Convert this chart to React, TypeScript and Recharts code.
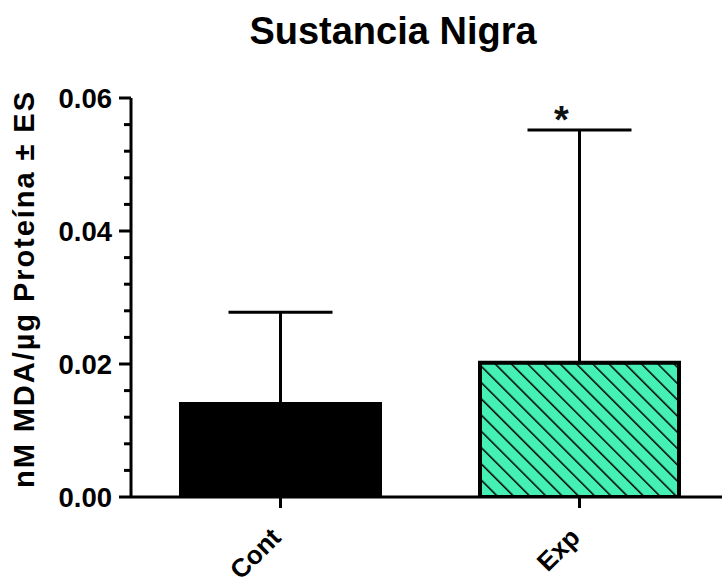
import React from 'react';
import { BarChart, Bar, XAxis, YAxis, ErrorBar, Cell, ReferenceDot } from 'recharts';

const categories = ['Cont', 'Exp'];
const means = [0.014, 0.0202];
const sems = [0.0138, 0.035];
const significance = ['', '*'];
const yTicks = [0, 0.004, 0.008, 0.012, 0.016, 0.02, 0.024, 0.028, 0.032, 0.036, 0.04, 0.044, 0.048, 0.052, 0.056, 0.06];
const majorStep = 0.02;
const title = 'Sustancia Nigra';
const yLabel = 'nM MDA/µg Proteína ± ES';

const data = categories.map((c, i) => ({ name: c, value: means[i], err: [0, sems[i]], sig: significance[i] }));

const FONT = '"Liberation Sans", Arial, sans-serif';
const GREEN = '#45F0B4';

const YTick = (props: any) => {
  const { x, y, payload } = props;
  const v = payload.value as number;
  const major = Math.abs(v / majorStep - Math.round(v / majorStep)) < 1e-6;
  return (
    <g>
      <line x1={x - (major ? 12 : 7)} x2={x} y1={y} y2={y} stroke="#000" strokeWidth={3} />
      {major && (
        <text x={x - 19} y={y} dy={10} textAnchor="end" fontFamily={FONT} fontWeight="bold" fontSize={27.5} fill="#000">
          {v.toFixed(2)}
        </text>
      )}
    </g>
  );
};

const XTick = (props: any) => {
  const { x, y, payload } = props;
  return (
    <g>
      <line x1={x} x2={x} y1={y} y2={y + 11} stroke="#000" strokeWidth={3} />
      <text
        x={x + 2}
        y={y + 42}
        textAnchor="end"
        transform={`rotate(-45 ${x + 2} ${y + 42})`}
        fontFamily={FONT}
        fontWeight="bold"
        fontSize={26}
        fill="#000"
      >
        {payload.value}
      </text>
    </g>
  );
};

export default function App() {
  return (
    <div style={{ position: 'absolute', left: 0, top: 0, width: 722, height: 588, overflow: 'hidden', background: '#fff' }}>
      <BarChart width={730} height={588} data={data} margin={{ top: 98, right: 1, bottom: 0, left: 0 }} barCategoryGap={0}>
        <defs>
          <pattern id="hatch" patternUnits="userSpaceOnUse" width={11.5} height={11.5} patternTransform="rotate(-45)">
            <rect x={0} y={0} width={11.5} height={11.5} fill={GREEN} />
            <line x1={0} y1={0} x2={0} y2={11.5} stroke="#000" strokeWidth={3} />
          </pattern>
        </defs>
        <XAxis
          dataKey="name"
          height={91}
          axisLine={{ stroke: '#000', strokeWidth: 3 }}
          tickLine={false}
          tickSize={0}
          tickMargin={0}
          tick={<XTick />}
          interval={0}
        />
        <YAxis
          width={131}
          domain={[0, 0.06]}
          ticks={yTicks}
          interval={0}
          axisLine={{ stroke: '#000', strokeWidth: 3 }}
          tickLine={false}
          tickSize={0}
          tickMargin={0}
          tick={<YTick />}
          allowDataOverflow
        />
        <Bar dataKey="value" barSize={199} stroke="#000" strokeWidth={4} isAnimationActive={false}>
          {data.map((d, i) => (
            <Cell key={d.name} fill={i === 0 ? '#000' : 'url(#hatch)'} />
          ))}
          <ErrorBar dataKey="err" width={52} stroke="#000" strokeWidth={3} direction="y" />
        </Bar>
        {data
          .filter((d) => d.sig)
          .map((d) => (
            <ReferenceDot
              key={d.name}
              x={d.name}
              y={d.value + d.err[1]}
              r={0}
              ifOverflow="visible"
              shape={(p: any) => (
                <text x={p.cx - 18} y={p.cy + 3} textAnchor="middle" fontFamily={FONT} fontWeight="bold" fontSize={38} fill="#111">
                  {d.sig}
                </text>
              )}
            />
          ))}
      </BarChart>
      <svg width={722} height={588} style={{ position: 'absolute', left: 0, top: 0, pointerEvents: 'none' }}>
        <text x={393} y={44} textAnchor="middle" fontFamily={FONT} fontWeight="bold" fontSize={38} fill="#000">
          {title}
        </text>
        <text
          x={34}
          y={290}
          textAnchor="middle"
          transform="rotate(-90 34 290)"
          fontFamily={FONT}
          fontWeight="bold"
          fontSize={29}
          fill="#000"
          textLength={396}
          lengthAdjust="spacing"
        >
          {yLabel}
        </text>
      </svg>
    </div>
  );
}
